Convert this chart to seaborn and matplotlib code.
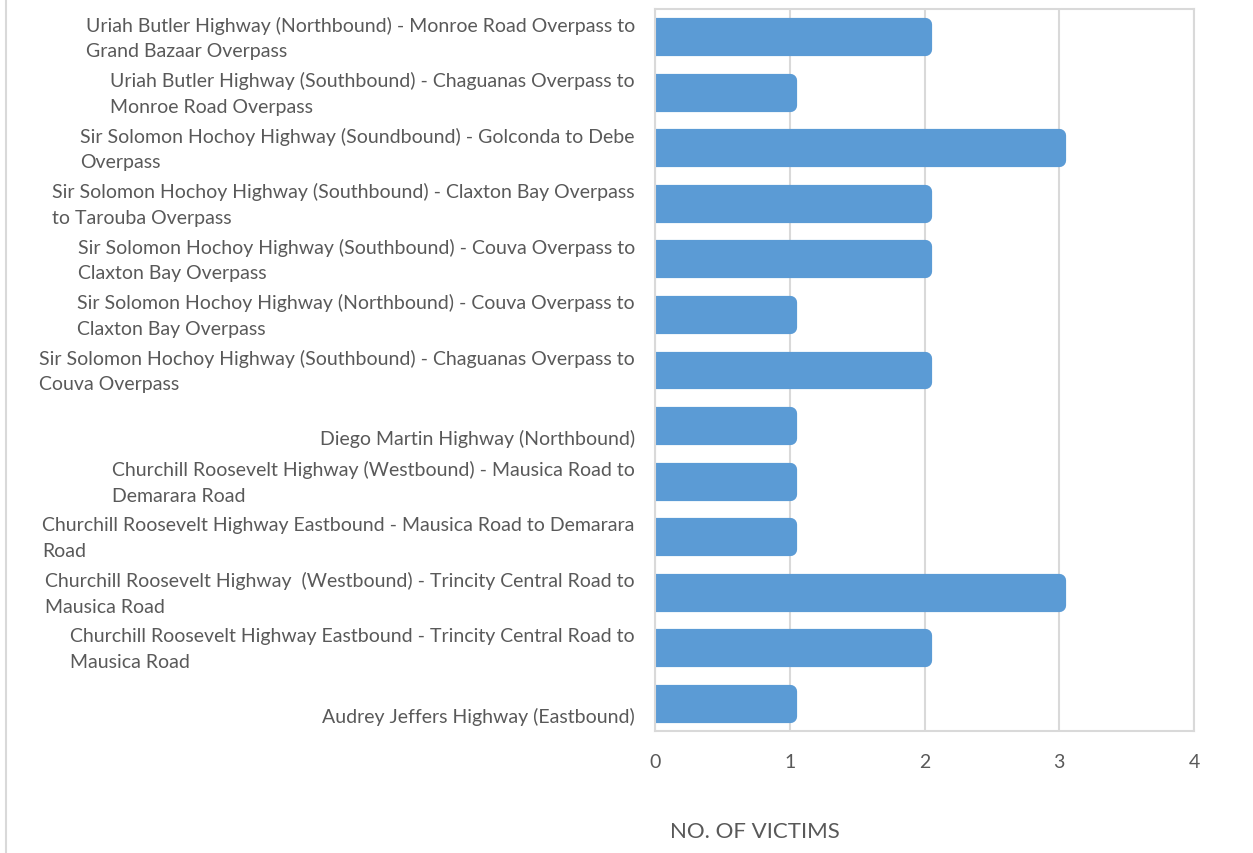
import matplotlib
matplotlib.use("Agg")
import matplotlib.pyplot as plt
import matplotlib.transforms as mtransforms
import seaborn as sns
import pandas as pd
from matplotlib.lines import Line2D

# Strecken (oben nach unten) und Anzahl der Opfer
locations = [
    "Uriah Butler Highway (Northbound) - Monroe Road Overpass to\nGrand Bazaar Overpass",
    "Uriah Butler Highway (Southbound) - Chaguanas Overpass to\nMonroe Road Overpass",
    "Sir Solomon Hochoy Highway (Soundbound) - Golconda to Debe\nOverpass",
    "Sir Solomon Hochoy Highway (Southbound) - Claxton Bay Overpass\nto Tarouba Overpass",
    "Sir Solomon Hochoy Highway (Southbound) - Couva Overpass to\nClaxton Bay Overpass",
    "Sir Solomon Hochoy Highway (Northbound) - Couva Overpass to\nClaxton Bay Overpass",
    "Sir Solomon Hochoy Highway (Southbound) - Chaguanas Overpass to\nCouva Overpass",
    "Diego Martin Highway (Northbound)",
    "Churchill Roosevelt Highway (Westbound) - Mausica Road to\nDemarara Road",
    "Churchill Roosevelt Highway Eastbound - Mausica Road to Demarara\nRoad",
    "Churchill Roosevelt Highway  (Westbound) - Trincity Central Road to\nMausica Road",
    "Churchill Roosevelt Highway Eastbound - Trincity Central Road to\nMausica Road",
    "Audrey Jeffers Highway (Eastbound)",
]
victims = [2, 1, 3, 2, 2, 1, 2, 1, 1, 1, 3, 2, 1]
x_ticks = [0, 1, 2, 3, 4]

df = pd.DataFrame({"Location": locations, "Victims": victims})

sns.set_theme(style="white")
plt.rcParams["font.family"] = ["Lato", "DejaVu Sans"]

bar_color = "#5B9BD5"
text_color = "#595959"
grid_color = "#D9D9D9"

fig = plt.figure(figsize=(12.53, 8.54), dpi=100)
ax = fig.add_axes([655 / 1253, 1 - 732 / 854, 539 / 1253, 722 / 854])

sns.barplot(data=df, x="Victims", y="Location", color=bar_color, width=0.45,
            saturation=1, ax=ax, zorder=2)

# abgerundete Balkenenden
for p in ax.patches:
    p.set_edgecolor(bar_color)
    p.set_linewidth(9.5)
    p.set_joinstyle("round")

ax.set_xlim(0, 4)
ax.set_xticks(x_ticks)
ax.set_axisbelow(True)
ax.grid(axis="x", color=grid_color, linewidth=1.5)
ax.grid(axis="y", visible=False)
for s in ax.spines.values():
    s.set_color(grid_color)
    s.set_linewidth(1.5)

ax.tick_params(axis="x", labelsize=14, colors=text_color, length=0, pad=16)
ax.tick_params(axis="y", labelsize=14, colors=text_color, length=0, pad=14.5)
for lbl in ax.get_yticklabels():
    lbl.set_multialignment("left")
    lbl.set_linespacing(1.6)
    # einzeilige Beschriftungen sitzen etwas tiefer
    dy = -11 if "\n" not in lbl.get_text() else 5
    lbl.set_transform(lbl.get_transform() +
                      mtransforms.ScaledTranslation(0, dy / 100, fig.dpi_scale_trans))

ax.set_ylabel("")
ax.set_xlabel("NO. OF VICTIMS", fontsize=16, color=text_color)
ax.xaxis.set_label_coords(100 / 539, -0.125)

# Rahmen links
fig.add_artist(Line2D([6 / 1253, 6 / 1253], [0, 1], transform=fig.transFigure,
                      color=grid_color, linewidth=1.5))

fig.savefig("out.png", dpi=100)
